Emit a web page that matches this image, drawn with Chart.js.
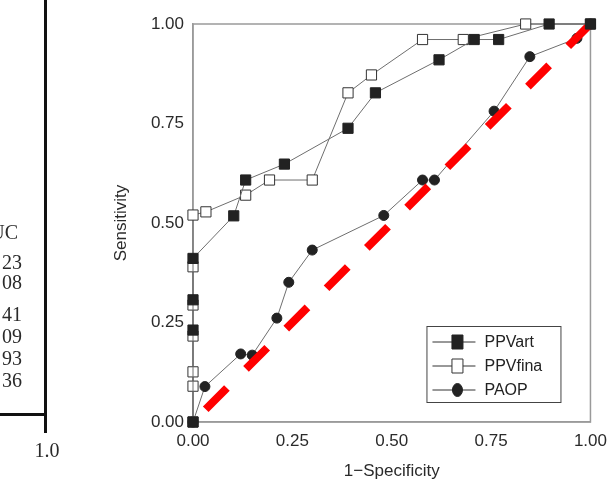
<!DOCTYPE html>
<html>
<head>
<meta charset="utf-8">
<script src="https://cdn.jsdelivr.net/npm/chart.js@4/dist/chart.umd.min.js"></script>
<style>
  html, body { margin: 0; padding: 0; background: #fff; }
  #wrap { position: relative; width: 616px; height: 490px; overflow: hidden; }
  #roc { position: absolute; left: 0; top: 0; }
  .frag { position: absolute; font-family: "Liberation Serif", "Times New Roman", serif; font-size: 20px; color: #2a2a2a; line-height: 20px; }
  .num { left: -40px; width: 62px; text-align: right; }
  .bar { position: absolute; background: #111; }
</style>
</head>
<body>
<div id="wrap">
  <canvas id="roc" width="616" height="490"></canvas>
  <!-- cropped piece of the neighbouring panel -->
  <div class="bar" style="left:44px;top:0;width:3px;height:433px"></div>
  <div class="bar" style="left:0;top:413px;width:46px;height:3px"></div>
  <div class="frag num" style="top:222px;left:-44px">AUC</div>
  <div class="frag num" style="top:252px">23</div>
  <div class="frag num" style="top:272px">08</div>
  <div class="frag num" style="top:304px">41</div>
  <div class="frag num" style="top:326px">09</div>
  <div class="frag num" style="top:348px">93</div>
  <div class="frag num" style="top:370px">36</div>
  <div class="frag" style="left:26px;top:440px;width:42px;text-align:center">1.0</div>
</div>
<script>
// ================= DATA =================
const tickValues = [0, 0.25, 0.5, 0.75, 1]
const legendOrder = ['PPVart', 'PPVfina', 'PAOP']

const ppvartX = [0, 0, 0, 0, 0.1025, 0.1325, 0.23, 0.39, 0.459, 0.619, 0.7075, 0.769, 0.896, 1]
const ppvartY = [0, 0.231, 0.307, 0.411, 0.518, 0.608, 0.648, 0.738, 0.827, 0.91, 0.961, 0.961, 1, 1]

const ppvfinaX = [0, 0, 0, 0, 0, 0, 0, 0.0325, 0.1325, 0.1925, 0.30, 0.39, 0.449, 0.5775, 0.68, 0.837, 1]
const ppvfinaY = [0, 0.09, 0.126, 0.216, 0.294, 0.39, 0.52, 0.528, 0.57, 0.608, 0.608, 0.827, 0.872, 0.961, 0.961, 1, 1]

const paopX = [0, 0.03, 0.12, 0.149, 0.211, 0.241, 0.30, 0.48, 0.5775, 0.6075, 0.7575, 0.8475, 0.966, 1]
const paopY = [0, 0.089, 0.171, 0.168, 0.261, 0.351, 0.432, 0.519, 0.608, 0.608, 0.781, 0.918, 0.964, 1]

const chanceX = [0, 1]
const chanceY = [0, 1]

const toPoints = (xs, ys) => xs.map((x, i) => ({ x, y: ys[i] }))

// ================= PLUGINS =================
// full frame round the plot area (axes only give left + bottom)
const framePlugin = {
  id: 'frame',
  beforeDatasetsDraw(chart) {
    const { ctx, chartArea: a } = chart
    ctx.save()
    ctx.strokeStyle = '#9a9a9a'
    ctx.lineWidth = 1.5
    ctx.strokeRect(a.left, a.top, a.right - a.left, a.bottom - a.top)
    ctx.restore()
  }
}

// legend box in the lower right corner, line - marker - line
const boxLegend = {
  id: 'boxLegend',
  afterDraw(chart) {
    const { ctx, chartArea: a } = chart
    const w = 134, h = 76
    const left = a.right - 30 - w
    const top = a.bottom - 20 - h
    ctx.save()
    ctx.strokeStyle = '#444'
    ctx.lineWidth = 1
    ctx.fillStyle = '#fff'
    ctx.fillRect(left, top, w, h)
    ctx.strokeRect(left + 0.5, top + 0.5, w, h)

    legendOrder.forEach((name, i) => {
      const d = chart.data.datasets.find(ds => ds.label === name)
      const y = top + 16 + i * 24
      const mx = left + 31
      ctx.strokeStyle = '#333'
      ctx.lineWidth = 1
      ctx.beginPath()
      ctx.moveTo(left + 6, y)
      ctx.lineTo(left + 49, y)
      ctx.stroke()

      ctx.fillStyle = d.pointBackgroundColor
      ctx.strokeStyle = d.pointBorderColor
      ctx.beginPath()
      if (d.pointStyle === 'circle') ctx.ellipse(mx, y, 5, 6.5, 0, 0, Math.PI * 2)
      else ctx.rect(mx - 5.5, y - 7, 11, 14)
      ctx.fill()
      ctx.stroke()

      ctx.fillStyle = '#222'
      ctx.font = '16px "Liberation Sans", Arial, sans-serif'
      ctx.textBaseline = 'middle'
      ctx.textAlign = 'left'
      ctx.fillText(d.label, left + 58, y + 1)
    })
    ctx.restore()
  }
}

// ================= CHART =================
const font = { family: '"Liberation Sans", Arial, sans-serif', size: 17 }

const lineStyle = {
  showLine: true,
  borderColor: '#6e6e6e',
  borderWidth: 1,
  pointBorderWidth: 1,
  clip: false
}

new Chart(document.getElementById('roc'), {
  type: 'scatter',
  data: {
    datasets: [
      {
        ...lineStyle, label: 'PPVart', order: 0,
        data: toPoints(ppvartX, ppvartY),
        pointStyle: 'rect', pointRadius: 7.2,
        pointBackgroundColor: '#222', pointBorderColor: '#222'
      },
      {
        label: 'chance', order: 1,
        data: toPoints(chanceX, chanceY),
        showLine: true, borderColor: '#ff0000', borderWidth: 8,
        borderDash: [30, 27], borderDashOffset: 39,
        pointRadius: 0, clip: false
      },
      {
        ...lineStyle, label: 'PAOP', order: 2,
        data: toPoints(paopX, paopY),
        pointStyle: 'circle', pointRadius: 5,
        pointBackgroundColor: '#222', pointBorderColor: '#222'
      },
      {
        ...lineStyle, label: 'PPVfina', order: 3,
        data: toPoints(ppvfinaX, ppvfinaY),
        pointStyle: 'rect', pointRadius: 7.2,
        pointBackgroundColor: '#fff', pointBorderColor: '#333'
      }
    ]
  },
  options: {
    responsive: false,
    animation: false,
    events: [],
    layout: { padding: { top: 24, right: 23, bottom: 0, left: 0 } },
    plugins: {
      legend: { display: false },
      tooltip: { enabled: false }
    },
    scales: {
      x: {
        type: 'linear', min: 0, max: 1,
        afterBuildTicks: s => { s.ticks = tickValues.map(v => ({ value: v })) },
        afterFit: s => { s.height = 68 },
        grid: { display: false, drawTicks: false },
        border: { display: true, color: '#9a9a9a', width: 1.5 },
        ticks: { font, color: '#2a2a2a', padding: 9, maxRotation: 0, callback: v => v.toFixed(2) },
        title: { display: true, text: '1\u2212Specificity', font, color: '#2a2a2a', padding: { top: 0, bottom: 8 } }
      },
      y: {
        type: 'linear', min: 0, max: 1,
        afterBuildTicks: s => { s.ticks = tickValues.map(v => ({ value: v })) },
        afterFit: s => { s.width = 193 },
        grid: { display: false, drawTicks: false },
        border: { display: true, color: '#9a9a9a', width: 1.5 },
        ticks: { font, color: '#2a2a2a', padding: 9, callback: v => v.toFixed(2) },
        title: { display: true, text: 'Sensitivity', font, color: '#2a2a2a', padding: { top: 111, bottom: 0 } }
      }
    }
  },
  plugins: [framePlugin, boxLegend]
})
</script>
</body>
</html>
